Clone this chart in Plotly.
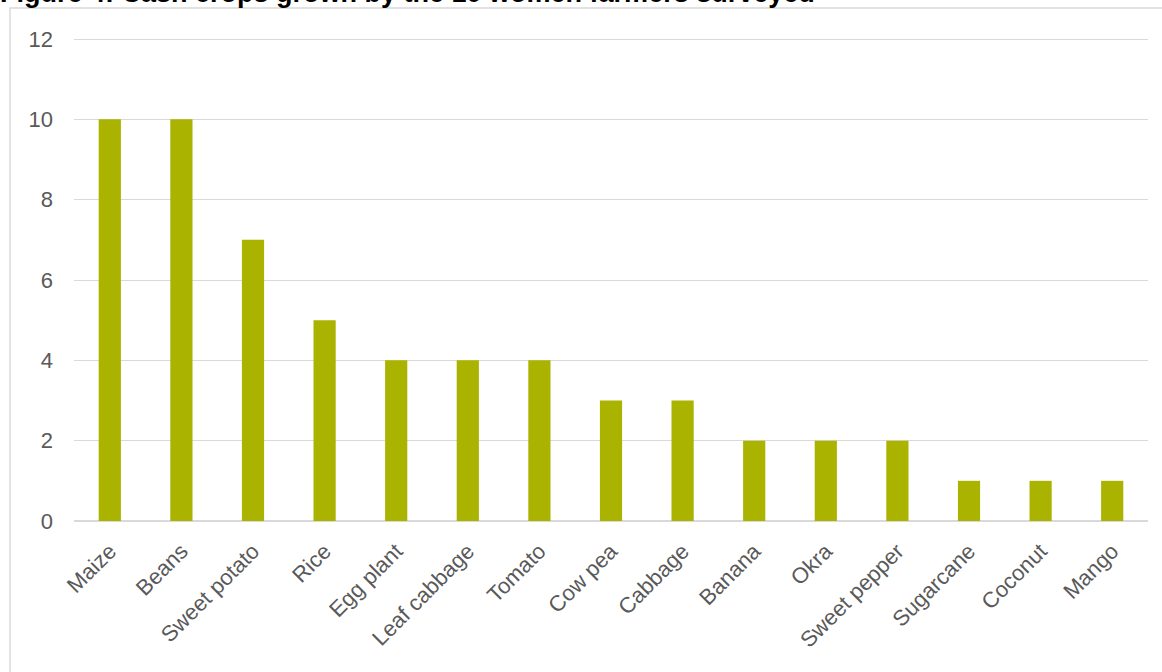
import plotly.graph_objects as go

crops = ["Maize", "Beans", "Sweet potato", "Rice", "Egg plant", "Leaf cabbage",
         "Tomato", "Cow pea", "Cabbage", "Banana", "Okra", "Sweet pepper",
         "Sugarcane", "Coconut", "Mango"]
farmers = [10, 10, 7, 5, 4, 4, 4, 3, 3, 2, 2, 2, 1, 1, 1]
y_ticks = [0, 2, 4, 6, 8, 10, 12]

W, H = 1162, 672
L, R, T, B = 74, 14, 35, 151
pw, ph = W - L - R, H - T - B
FONT = "Arial, Liberation Sans, sans-serif"

fig = go.Figure(go.Bar(
    x=crops, y=farmers,
    marker=dict(color="#aab400", line=dict(width=0)),
    width=0.31,
))

fig.update_layout(
    width=W, height=H,
    margin=dict(l=L, r=R, t=T, b=B),
    paper_bgcolor="white", plot_bgcolor="white",
    showlegend=False,
    font=dict(family=FONT, color="#595959", size=22),
    xaxis=dict(tickangle=-45, showgrid=False, showline=False, ticks="",
               ticklabelstandoff=12, tickfont=dict(size=22, color="#595959")),
    yaxis=dict(range=[0, 12.1], tickvals=y_ticks, showgrid=True, gridcolor="#d9d9d9",
               gridwidth=1.3, zeroline=True, zerolinecolor="#d9d9d9", zerolinewidth=2,
               ticks="", ticklabelstandoff=20, tickfont=dict(size=22, color="#595959")),
    shapes=[dict(type="rect", xref="paper", yref="paper",
                 x0=(10 - L) / pw, x1=(W + 20 - L) / pw,
                 y0=-(H + 20 - T - ph) / ph, y1=1 + (T - 8) / ph,
                 line=dict(color="#d9d9d9", width=1.5), fillcolor="rgba(0,0,0,0)",
                 layer="below")],
    annotations=[dict(text="<b>Figure 4: Cash crops grown by the 10 women farmers surveyed</b>",
                      xref="paper", yref="paper", x=(-2 - L) / pw, y=1 + (T - 10) / ph,
                      xanchor="left", yanchor="bottom", showarrow=False,
                      font=dict(size=27, color="#000000", family=FONT))],
)

fig.write_html("out.html")
